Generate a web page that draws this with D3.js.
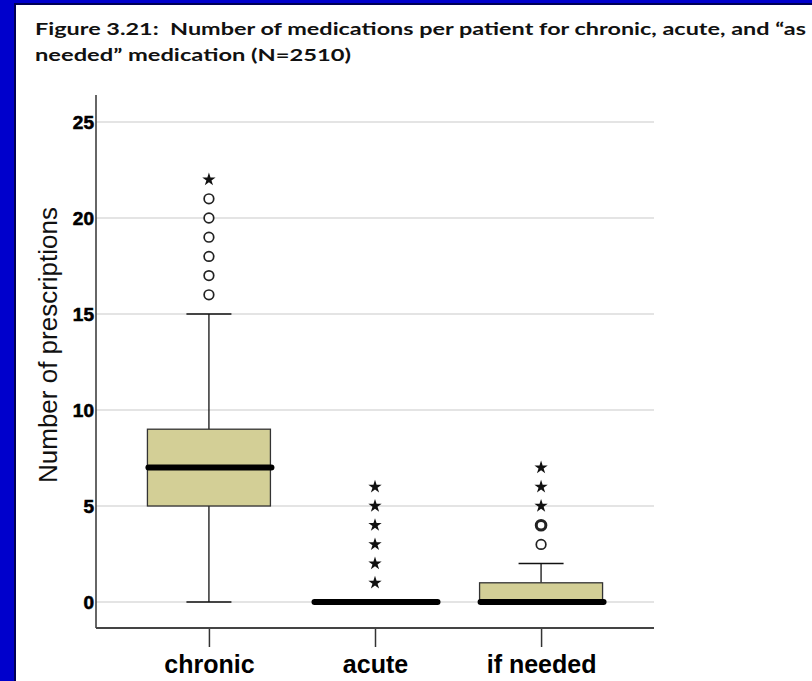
<!DOCTYPE html>
<html><head><meta charset="utf-8">
<script src="https://cdn.jsdelivr.net/npm/d3@7/dist/d3.min.js"></script>
<style>body{margin:0;background:#0000cc;}svg{display:block;}</style>
</head><body>
<svg id="chart" width="812" height="681"></svg>
<script>
const titleLines = ["Figure 3.21:  Number of medications per patient for chronic, acute, and \u201cas", "needed\u201d medication (N=2510)"];
const categories = ["chronic", "acute", "if needed"];
const q1 = [5, 0, 0];
const medians = [7, 0, 0];
const q3 = [9, 0, 1];
const whiskerLow = [0, 0, 0];
const whiskerHigh = [15, 0, 2];
const outliers = [[16, 17, 18, 19, 20, 21], [], [3, 4, 4]];
const extremes = [[22], [1, 2, 3, 4, 5, 6], [5, 6, 7]];
const yTicks = [0, 5, 10, 15, 20, 25];
const yLabel = "Number of prescriptions";

(function () {
const svg = d3.select("#chart");
svg.append("rect").attr("x", 0).attr("y", 0).attr("width", 812).attr("height", 681).attr("fill", "#0000cc");
svg.append("rect").attr("x", 14).attr("y", 3).attr("width", 798).attr("height", 678).attr("fill", "#000055");
svg.append("rect").attr("x", 16).attr("y", 5).attr("width", 796).attr("height", 676).attr("fill", "#ffffff");

const tt = svg.append("g").attr("font-family", "Lato, 'Open Sans', sans-serif").attr("font-weight", "bold").attr("font-size", 17).attr("fill", "#111").style("white-space", "pre");
tt.append("text").attr("xml:space", "preserve").attr("x", 35).attr("y", 35).text(titleLines[0]).attr("textLength", 771).attr("lengthAdjust", "spacingAndGlyphs");
tt.append("text").attr("xml:space", "preserve").attr("x", 35).attr("y", 61).text(titleLines[1]).attr("textLength", 316).attr("lengthAdjust", "spacingAndGlyphs");

const pl = 96, pr = 654, pt = 95, pb = 628;
const y = d3.scaleLinear().domain([0, 25]).range([602, 122]);
const x = d3.scalePoint().domain(categories).range([pl, pr]).padding(0.68);
const boxW = 123, capW = 45;

svg.append("g").selectAll("line").data(yTicks).join("line")
  .attr("x1", pl).attr("x2", pr).attr("y1", d => y(d)).attr("y2", d => y(d))
  .attr("stroke", "#e4e4e4").attr("stroke-width", 2);

const yAxis = d3.axisLeft(y).tickValues(yTicks).tickSize(0).tickPadding(2);
const gy = svg.append("g").attr("transform", `translate(${pl},0)`).call(yAxis)
  .attr("font-family", "'Liberation Sans', Arial, sans-serif").attr("font-size", 19);
gy.select(".domain").remove();
gy.selectAll("text").style("font-weight", "bold").attr("fill", "#000").attr("stroke", "#000").attr("stroke-width", 0.6);
svg.append("line").attr("x1", pl).attr("x2", pl).attr("y1", pt).attr("y2", pb).attr("stroke", "#333").attr("stroke-width", 1.5);

const xAxis = d3.axisBottom(x).tickSize(19).tickPadding(8);
const gx = svg.append("g").attr("transform", `translate(0,${pb})`).call(xAxis)
  .attr("font-family", "'Liberation Sans', Arial, sans-serif").attr("font-size", 25);
gx.select(".domain").remove();
gx.selectAll(".tick line").attr("stroke", "#333").attr("stroke-width", 1.5);
gx.selectAll("text").style("font-weight", "bold").attr("fill", "#000").attr("dy", "0.72em");
svg.append("line").attr("x1", pl).attr("x2", pr).attr("y1", pb).attr("y2", pb).attr("stroke", "#444").attr("stroke-width", 2);

svg.append("text").attr("transform", `translate(57,345) rotate(-90)`)
  .attr("text-anchor", "middle").attr("font-family", "'Liberation Sans', Arial, sans-serif")
  .attr("font-size", 26).attr("fill", "#111").text(yLabel);

const g = svg.append("g");
categories.forEach((c, i) => {
  const cx = x(c);
  g.append("line").attr("x1", cx).attr("x2", cx).attr("y1", y(q3[i])).attr("y2", y(whiskerHigh[i])).attr("stroke", "#111").attr("stroke-width", 1.3);
  g.append("line").attr("x1", cx).attr("x2", cx).attr("y1", y(q1[i])).attr("y2", y(whiskerLow[i])).attr("stroke", "#111").attr("stroke-width", 1.3);
  if (whiskerHigh[i] > q3[i]) g.append("line").attr("x1", cx - capW / 2).attr("x2", cx + capW / 2).attr("y1", y(whiskerHigh[i])).attr("y2", y(whiskerHigh[i])).attr("stroke", "#111").attr("stroke-width", 1.5);
  if (whiskerLow[i] < q1[i]) g.append("line").attr("x1", cx - capW / 2).attr("x2", cx + capW / 2).attr("y1", y(whiskerLow[i])).attr("y2", y(whiskerLow[i])).attr("stroke", "#111").attr("stroke-width", 1.5);
  g.append("rect").attr("x", cx - boxW / 2).attr("width", boxW).attr("y", y(q3[i])).attr("height", y(q1[i]) - y(q3[i]))
    .attr("fill", "#d3cf96").attr("stroke", "#333").attr("stroke-width", 1.3);
  g.append("line").attr("x1", cx - boxW / 2 + 1).attr("x2", cx + boxW / 2 + 1).attr("y1", y(medians[i])).attr("y2", y(medians[i]))
    .attr("stroke", "#000").attr("stroke-width", 6).attr("stroke-linecap", "round");
  const counts = d3.rollup(outliers[i], v => v.length, d => d);
  for (const [v, n] of counts) {
    g.append("circle").attr("cx", cx).attr("cy", y(v)).attr("r", 4.8).attr("fill", "#fff")
      .attr("stroke", "#222").attr("stroke-width", 1.7 + (n - 1) * 1.3);
  }
  const star = d3.symbol().type(d3.symbolStar).size(55);
  extremes[i].forEach(v => {
    g.append("path").attr("d", star()).attr("transform", `translate(${cx},${y(v)})`).attr("fill", "#111");
  });
});
})();
</script>
</body></html>
